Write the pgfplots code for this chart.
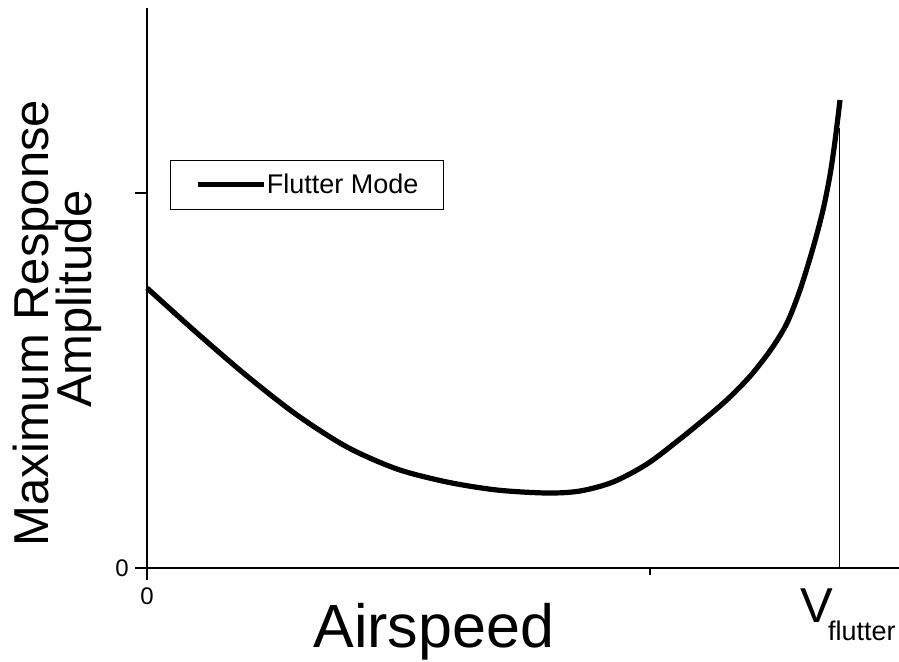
\documentclass[border=0pt]{standalone}
\usepackage{fontspec}
\setmainfont{Liberation Sans}
\usepackage{pgfplots}
\pgfplotsset{compat=1.18}
\begin{document}
\begin{tikzpicture}
\begin{axis}[
  scale only axis, width=376pt, height=280pt,
  xmin=0, xmax=752, ymin=0, ymax=560,
  axis x line=bottom, axis y line=left,
  axis line style={-, line width=1pt, black},
  xtick={0}, xticklabels={0},
  minor xtick={503},
  ytick={0,375}, yticklabels={0,{}},
  tick align=outside,
  major tick length=6pt, minor tick length=3.5pt,
  major tick style={black, line width=1pt},
  minor tick style={black, line width=0.6pt},
  xticklabel style={font=\fontsize{12}{14}\selectfont, inner sep=0pt, yshift=-3.5pt},
  yticklabel style={font=\fontsize{12}{14}\selectfont, inner sep=0pt, xshift=-3pt},
  clip=false,
  legend style={at={(axis cs:23,408)}, anchor=north west, draw=black, line width=0.6pt,
    font=\fontsize{13.5}{15}\selectfont, inner xsep=12.5pt, inner ysep=6.5pt,
    nodes={inner sep=0pt},
    /tikz/every odd column/.append style={column sep=0pt}},
  legend cell align=left,
  legend image code/.code={\draw[#1, line width=2.6pt] (0pt,0pt) -- (33pt,0pt);},
]
\addplot[black, line width=0.5pt, forget plot] coordinates {(692,0) (692,440)};
\addplot[black, line width=2.6pt, smooth, tension=0.5] coordinates {
(0,280) (50,235) (100,192) (150,153) (200,121) (250,99) (300,86) (350,78)
(400,75) (433,77) (466,86) (500,104) (533,129) (566,156) (585,173) (605,194)
(625,220) (640,245) (653,278) (666,320) (676,358) (683,393) (688,427) (693,468)};
\addlegendentry{Flutter Mode}
\node[anchor=base, rotate=90, inner sep=0pt, font=\fontsize{24.5}{28}\selectfont] at (axis cs:-98,245) {Maximum Response};
\node[anchor=base, rotate=90, inner sep=0pt, font=\fontsize{24.5}{28}\selectfont] at (axis cs:-55,269) {Amplitude};
\node[anchor=base west, inner sep=0pt, font=\fontsize{30.5}{34}\selectfont] at (axis cs:166,-79) {Airspeed};
\node[anchor=base west, inner sep=0pt, font=\fontsize{24.5}{28}\selectfont] at (axis cs:653,-54) {V\kern-2.5pt\raisebox{-9pt}{\fontsize{13.5}{16}\selectfont flutter}};
\end{axis}
\pgfresetboundingbox
\path (-73.5pt,-46.5pt) rectangle (376pt,284pt);
\end{tikzpicture}
\end{document}
